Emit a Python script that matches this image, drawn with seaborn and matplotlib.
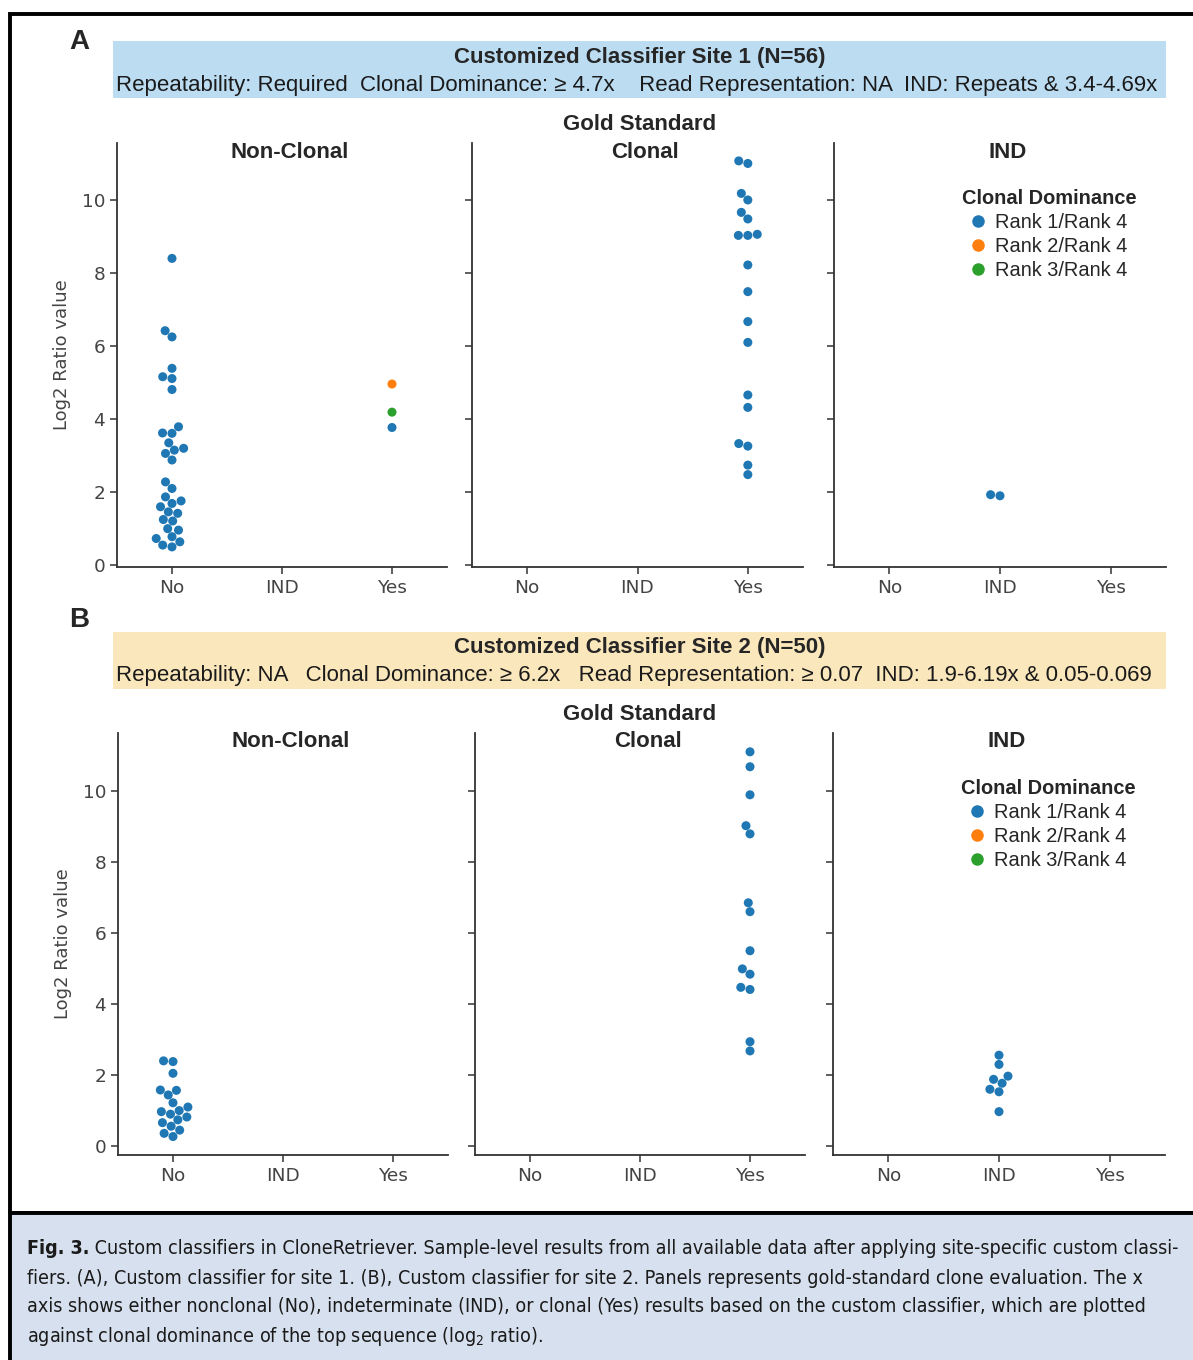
import pandas as pd
import seaborn as sns
import matplotlib.pyplot as plt
from matplotlib.lines import Line2D
from matplotlib.patches import Rectangle
from matplotlib import font_manager
from matplotlib.font_manager import FontProperties

W, H = 1193, 1360

# categories
calls = ["No", "IND", "Yes"]
gold_panels = ["Non-Clonal", "Clonal", "IND"]
ranks = ["Rank 1/Rank 4", "Rank 2/Rank 4", "Rank 3/Rank 4"]
rank_colors = ["#1f77b4", "#ff7f0e", "#2ca02c"]

# site 1 (A) log2 ratio values
s1_nonclonal_no = [8.40, 6.42, 6.25, 5.39, 5.16, 5.11, 4.81,
                   3.79, 3.62, 3.61, 3.35, 3.20, 3.15, 3.06, 2.88,
                   2.28, 2.10, 1.87, 1.76, 1.69, 1.60, 1.46, 1.42, 1.25,
                   1.21, 1.00, 0.96, 0.78, 0.73, 0.64, 0.55, 0.50]
s1_nonclonal_yes = [3.77, 4.96, 4.19]
s1_nonclonal_yes_rank = ["Rank 1/Rank 4", "Rank 2/Rank 4", "Rank 3/Rank 4"]
s1_clonal_yes = [11.07, 11.00, 10.18, 10.00, 9.66, 9.48, 9.03, 9.03, 9.06,
                 8.22, 7.49, 6.67, 6.10, 4.66, 4.32, 3.33, 3.26, 2.74, 2.48]
s1_ind_ind = [1.93, 1.90]

# site 2 (B)
s2_nonclonal_no = [2.40, 2.38, 2.05, 1.58, 1.57, 1.44, 1.22, 1.10, 1.00,
                   0.97, 0.90, 0.82, 0.74, 0.66, 0.56, 0.45, 0.36, 0.27]
s2_clonal_yes = [11.10, 10.68, 9.89, 9.02, 8.79, 6.85, 6.60, 5.50, 4.99,
                 4.84, 4.47, 4.41, 2.94, 2.68]
s2_ind_ind = [2.56, 2.30, 1.97, 1.88, 1.77, 1.60, 1.53, 0.97]

rows = []
def add(site, gold, call, vals, rank=None):
    for i, v in enumerate(vals):
        r = rank[i] if rank is not None else ranks[0]
        rows.append(dict(site=site, gold=gold, call=call, log2=v, rank=r))

add(1, "Non-Clonal", "No", s1_nonclonal_no)
add(1, "Non-Clonal", "Yes", s1_nonclonal_yes, s1_nonclonal_yes_rank)
add(1, "Clonal", "Yes", s1_clonal_yes)
add(1, "IND", "IND", s1_ind_ind)
add(2, "Non-Clonal", "No", s2_nonclonal_no)
add(2, "Clonal", "Yes", s2_clonal_yes)
add(2, "IND", "IND", s2_ind_ind)
df = pd.DataFrame(rows)

sns.set_theme(style="ticks")
plt.rcParams["font.family"] = ["DejaVu Sans"]
plt.rcParams["axes.edgecolor"] = "#333333"
plt.rcParams["xtick.color"] = "#333333"
plt.rcParams["ytick.color"] = "#333333"
plt.rcParams["mathtext.default"] = "regular"

ARIAL = "Liberation Sans"

# a condensed face for the caption if one is installed
def find_cond(weight):
    for f in font_manager.fontManager.ttflist:
        if f.style != "normal":
            continue
        narrow = ("Narrow" in f.name or "Condensed" in f.name
                  or f.stretch in ("condensed", "semi-condensed"))
        if narrow and abs(int(f.weight) - weight) < 100:
            return FontProperties(fname=f.fname)
    return FontProperties(family=ARIAL, weight="bold" if weight >= 600 else "normal")

cap_reg = find_cond(400)
cap_bold = find_cond(700)

fig = plt.figure(figsize=(W / 100, H / 100), dpi=100)
fig.patch.set_facecolor("white")

def fx(px):
    return px / W

def fy(py):
    return 1 - py / H

# panel geometry in pixels
layout = {
    1: dict(top=143, bottom=567, xs=[(117, 447), (472, 803), (834, 1166)],
            ylim=(-0.05, 11.56), box=(41, 98), color="#bcdcf2",
            letter="A", letter_y=42,
            title="Customized Classifier Site 1 (N=56)",
            sub="Repeatability: Required  Clonal Dominance: \u2265 4.7x    Read Representation: NA  IND: Repeats & 3.4-4.69x"),
    2: dict(top=733, bottom=1155, xs=[(118, 448), (475, 805), (833, 1165)],
            ylim=(-0.25, 11.63), box=(632, 689), color="#fbe7bc",
            letter="B", letter_y=620,
            title="Customized Classifier Site 2 (N=50)",
            sub="Repeatability: NA   Clonal Dominance: \u2265 6.2x   Read Representation: \u2265 0.07  IND: 1.9-6.19x & 0.05-0.069"),
}

for site, L in layout.items():
    b0, b1 = L["box"]
    fig.add_artist(Rectangle((fx(113), fy(b1)), fx(1166 - 113), (b1 - b0) / H,
                             transform=fig.transFigure, fc=L["color"], ec="none"))
    fig.text(fx(79), fy(L["letter_y"]), L["letter"], fontsize=20, weight="bold",
             family=ARIAL, ha="center", va="center")
    fig.text(fx(640), fy(b0 + 16), L["title"], fontsize=16, weight="bold",
             family=ARIAL, ha="center", va="center")
    fig.text(fx(116), fy(b0 + 44), L["sub"], fontsize=16,
             family=ARIAL, ha="left", va="center", color="#1a1a1a")
    fig.text(fx(640), fy(L["top"] - 19), "Gold Standard", fontsize=16,
             weight="bold", family=ARIAL, ha="center", va="center")

    for i, gold in enumerate(gold_panels):
        x0, x1 = L["xs"][i]
        ax = fig.add_axes([fx(x0), fy(L["bottom"]), fx(x1 - x0),
                           (L["bottom"] - L["top"]) / H])
        sub = df[(df.site == site) & (df.gold == gold)]
        sns.swarmplot(data=sub, x="call", y="log2", hue="rank", order=calls,
                      hue_order=ranks, palette=rank_colors, size=6.5,
                      linewidth=0, ax=ax, legend=False)
        ax.set_xlim(-0.5, 2.5)
        ax.set_ylim(*L["ylim"])
        ax.set_yticks([0, 2, 4, 6, 8, 10])
        ax.set_xlabel("")
        ax.tick_params(labelsize=13.3, labelcolor="#444444", length=5, width=1.1)
        if i == 0:
            ax.set_ylabel("Log2 Ratio value", fontsize=13, color="#444444",
                          labelpad=8)
        else:
            ax.set_ylabel("")
            ax.tick_params(labelleft=False)
        sns.despine(ax=ax)
        for s in ["left", "bottom"]:
            ax.spines[s].set_linewidth(1.3)
        fig.text(fx((x0 + x1) / 2 + 8), fy(L["top"] + 9), gold, fontsize=16,
                 weight="bold", family=ARIAL, ha="center", va="center")
        if i == 2:
            handles = [Line2D([], [], marker="o", ls="", color=c, markersize=8)
                       for c in rank_colors]
            ax.legend(handles, ranks, title="Clonal Dominance", frameon=False,
                      loc="upper center", bbox_to_anchor=(0.648, 0.925),
                      prop={"family": ARIAL, "size": 14.4},
                      title_fontproperties={"family": ARIAL, "size": 14.4,
                                            "weight": "bold"},
                      handlelength=0.8, handletextpad=0.45,
                      labelspacing=0.25, borderpad=0.2)

# outer frame
fig.add_artist(Rectangle((fx(9.5), fy(1213)), fx(1200 - 9.5), (1213 - 14) / H,
                         transform=fig.transFigure, fill=False, ec="black", lw=2.8))
# caption
fig.add_artist(Rectangle((fx(9.5), -0.01), 1.0, (1360 - 1213) / H + 0.01,
                         transform=fig.transFigure, fc="#d7e0ee", ec="black", lw=2.8))

cap_head = "Fig. 3."
cap_lines = [
    " Custom classifiers in CloneRetriever. Sample-level results from all available data after applying site-specific custom classi-",
    "fiers. (A), Custom classifier for site 1. (B), Custom classifier for site 2. Panels represents gold-standard clone evaluation. The x",
    "axis shows either nonclonal (No), indeterminate (IND), or clonal (Yes) results based on the custom classifier, which are plotted",
    "against clonal dominance of the top sequence (log$_2$ ratio).",
]
cap_y = [1249, 1278, 1307, 1336]

# fit the caption size so the first line fills the box width
renderer = fig.canvas.get_renderer()
size = 14.0
cap_bold.set_size(size)
cap_reg.set_size(size)
t1 = fig.text(0, 0, cap_head, fontproperties=cap_bold)
t2 = fig.text(0, 0, cap_lines[0], fontproperties=cap_reg)
wid = t1.get_window_extent(renderer).width + t2.get_window_extent(renderer).width
t1.remove()
t2.remove()
size = min(size * 1160 / wid, 20)
cap_bold.set_size(size)
cap_reg.set_size(size)

t = fig.text(fx(27), fy(cap_y[0]), cap_head, fontproperties=cap_bold,
             ha="left", va="center", color="#1a1a1a")
bb = t.get_window_extent(renderer=renderer)
fig.text(bb.x1 / W, fy(cap_y[0]), cap_lines[0], fontproperties=cap_reg,
         ha="left", va="center", color="#1a1a1a")
for line, y in zip(cap_lines[1:], cap_y[1:]):
    fig.text(fx(27), fy(y), line, fontproperties=cap_reg,
             ha="left", va="center", color="#1a1a1a")

fig.savefig("out.png", dpi=100)
